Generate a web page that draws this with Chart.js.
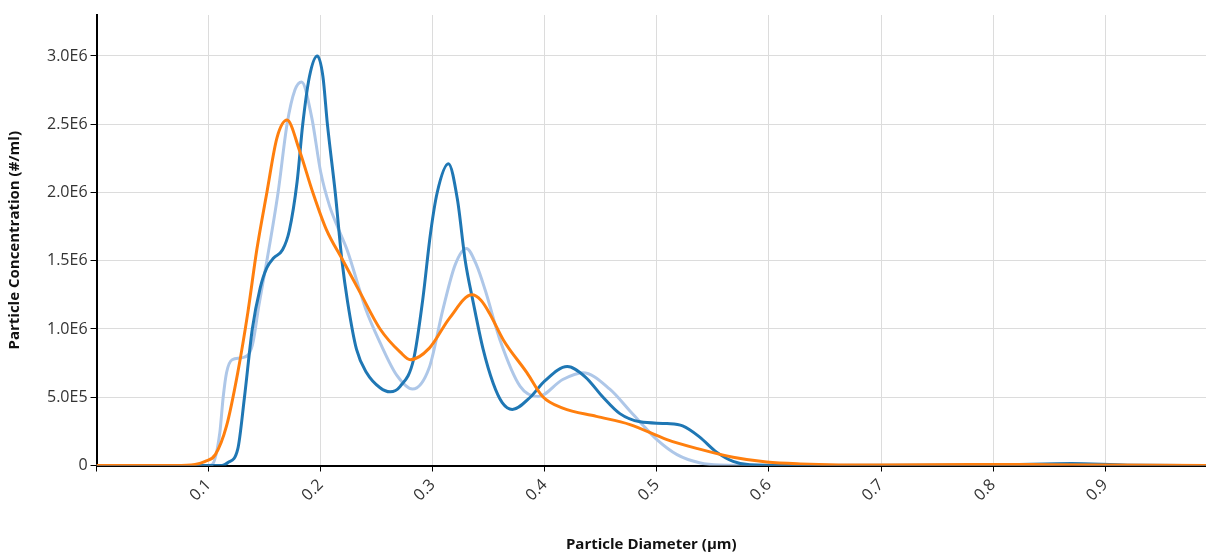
<!DOCTYPE html>
<html>
<head>
<meta charset="utf-8">
<script src="https://cdn.jsdelivr.net/npm/chart.js@4.4.1/dist/chart.umd.min.js"></script>
<style>
  body { margin: 0; background: #fff; }
  #wrap { width: 1206px; height: 554px; }
</style>
</head>
<body>
<div id="wrap"><canvas id="sizeChart" width="1206" height="554"></canvas></div>
<script>
// particle diameter (um) and concentration (millions #/ml)
const blueX = [0, 0.10, 0.112, 0.117, 0.126, 0.132, 0.139, 0.146, 0.152, 0.158, 0.166, 0.172, 0.179, 0.184,
  0.190, 0.197, 0.202, 0.206, 0.213, 0.219, 0.224, 0.232, 0.241, 0.253, 0.262, 0.271, 0.283, 0.291, 0.298,
  0.304, 0.314, 0.322, 0.329, 0.336, 0.345, 0.354, 0.362, 0.371, 0.387, 0.400, 0.420, 0.436, 0.452, 0.467,
  0.485, 0.509, 0.523, 0.538, 0.553, 0.568, 0.583, 0.62, 0.80, 0.87, 0.92, 0.99];
const blueY = [0, 0, 0, 0.02, 0.12, 0.5, 1.0, 1.3, 1.45, 1.52, 1.58, 1.72, 2.08, 2.5,
  2.85, 3.0, 2.85, 2.5, 2.0, 1.5, 1.2, 0.85, 0.68, 0.57, 0.54, 0.58, 0.78, 1.21, 1.7,
  2.0, 2.21, 1.95, 1.5, 1.2, 0.85, 0.6, 0.46, 0.41, 0.5, 0.62, 0.725, 0.65, 0.5, 0.38,
  0.32, 0.307, 0.29, 0.21, 0.10, 0.03, 0.005, 0, 0.002, 0.015, 0.002, 0];

const lightX = [0, 0.10, 0.103, 0.110, 0.113, 0.116, 0.121, 0.130, 0.139, 0.145, 0.152, 0.162, 0.170,
  0.177, 0.183, 0.192, 0.200, 0.208, 0.216, 0.224, 0.232, 0.240, 0.253, 0.268, 0.282, 0.297, 0.309, 0.320,
  0.330, 0.339, 0.347, 0.360, 0.378, 0.394, 0.416, 0.434, 0.458, 0.476, 0.487, 0.500, 0.518, 0.538, 0.556,
  0.60, 0.80, 0.87, 0.92, 0.99];
const lightY = [0, 0, 0.005, 0.24, 0.5, 0.68, 0.775, 0.79, 0.88, 1.18, 1.5, 2.0, 2.5,
  2.75, 2.81, 2.55, 2.15, 1.9, 1.73, 1.57, 1.36, 1.15, 0.9, 0.66, 0.56, 0.72, 1.14, 1.47,
  1.59, 1.47, 1.28, 0.92, 0.58, 0.505, 0.63, 0.68, 0.56, 0.40, 0.30, 0.19, 0.08, 0.02, 0.003,
  0, 0.002, 0.01, 0.002, 0];

const orangeX = [0, 0.07, 0.088, 0.097, 0.106, 0.116, 0.126, 0.135, 0.143, 0.152, 0.161, 0.170, 0.181, 0.193,
  0.205, 0.220, 0.235, 0.253, 0.271, 0.280, 0.297, 0.315, 0.335, 0.343, 0.351, 0.363, 0.384, 0.398, 0.416,
  0.446, 0.476, 0.509, 0.538, 0.568, 0.598, 0.628, 0.70, 0.78, 0.85, 0.99];
const orangeY = [0, 0, 0.008, 0.03, 0.08, 0.29, 0.68, 1.12, 1.58, 2.0, 2.4, 2.53, 2.31, 2.0,
  1.73, 1.5, 1.27, 1.0, 0.83, 0.775, 0.86, 1.08, 1.25, 1.21, 1.11, 0.92, 0.68, 0.505, 0.42,
  0.36, 0.30, 0.19, 0.12, 0.06, 0.025, 0.012, 0.003, 0.008, 0.006, 0];

const yTicks = [0, 5e5, 1e6, 1.5e6, 2e6, 2.5e6, 3e6];

function toPoints(xs, ys) {
  return xs.map((x, i) => ({ x: x, y: ys[i] * 1e6 }));
}

const tickFont = { family: "'Open Sans', sans-serif", size: 16 };
const titleFont = { family: "'Open Sans', sans-serif", size: 15, weight: "bold" };

new Chart(document.getElementById("sizeChart"), {
  type: "line",
  data: {
    datasets: [
      { label: "C", data: toPoints(orangeX, orangeY), borderColor: "#ff7f0e" },
      { label: "A", data: toPoints(blueX, blueY), borderColor: "#1f77b4" },
      { label: "B", data: toPoints(lightX, lightY), borderColor: "#aec7e8" }
    ]
  },
  options: {
    responsive: false,
    animation: false,
    datasets: {
      line: {
        borderWidth: 3,
        pointRadius: 0,
        fill: false,
        cubicInterpolationMode: "monotone"
      }
    },
    layout: { padding: { top: 15, right: 0, left: 6, bottom: 0 } },
    plugins: { legend: { display: false }, tooltip: { enabled: false } },
    scales: {
      x: {
        type: "linear",
        min: 0,
        max: 0.99,
        grid: { color: "#dcdcdc", tickColor: "#000", tickLength: 6, lineWidth: 1 },
        border: { color: "#000", width: 2 },
        ticks: {
          stepSize: 0.1,
          includeBounds: false,
          minRotation: 45,
          maxRotation: 45,
          color: "#333",
          font: tickFont,
          padding: 4,
          callback: (v) => (v === 0 ? "" : v.toFixed(1))
        },
        title: {
          display: true,
          text: "Particle Diameter (µm)",
          color: "#111",
          font: titleFont,
          padding: { top: 27, bottom: 0 }
        }
      },
      y: {
        min: 0,
        max: 3.3e6,
        afterBuildTicks: (axis) => { axis.ticks = yTicks.map((v) => ({ value: v })); },
        grid: { color: "#dcdcdc", tickColor: "#000", tickLength: 6, lineWidth: 1 },
        border: { color: "#000", width: 2 },
        ticks: {
          color: "#333",
          font: tickFont,
          padding: 3,
          callback: (v) => (v === 0 ? "0" : v.toExponential(1).replace("e+", "E"))
        },
        title: {
          display: true,
          text: "Particle Concentration (#/ml)",
          color: "#111",
          font: titleFont,
          padding: { top: 0, bottom: 20 }
        }
      }
    }
  }
});
</script>
</body>
</html>
